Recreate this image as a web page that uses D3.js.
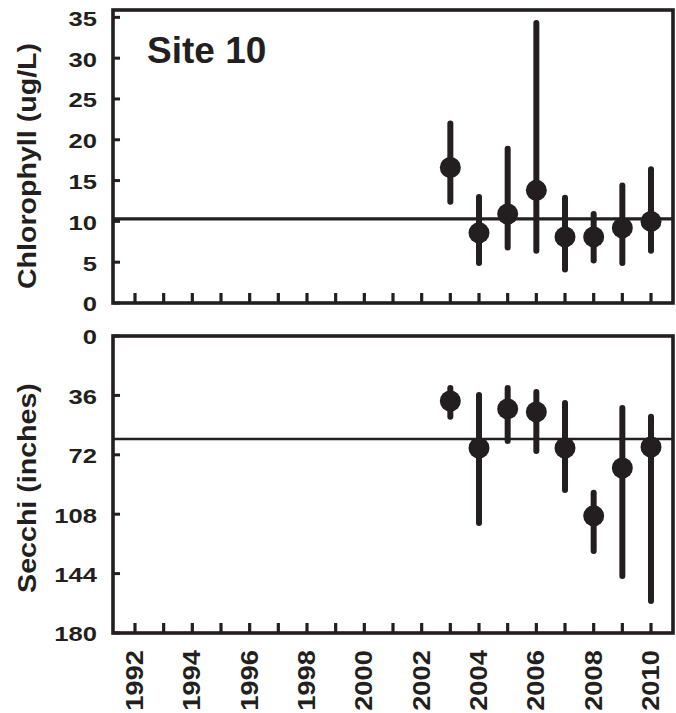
<!DOCTYPE html>
<html><head><meta charset="utf-8">
<script src="https://cdn.jsdelivr.net/npm/d3@7"></script>
<style>
html,body{margin:0;padding:0;background:#fff;}
svg{display:block;}
text{font-family:"Liberation Sans",Arial,sans-serif;font-weight:bold;fill:#231f20;}
</style></head>
<body>
<script>
// ---- data ----
const years = [2003, 2004, 2005, 2006, 2007, 2008, 2009, 2010];
const chlMean = [16.6, 8.6, 10.9, 13.8, 8.1, 8.1, 9.2, 10.0];
const chlMax  = [22.0, 13.0, 18.9, 34.3, 12.9, 10.9, 14.4, 16.4];
const chlMin  = [12.4, 4.9, 6.8, 6.4, 4.1, 5.2, 4.9, 6.4];
const chlRef = 10.3;
const secMean = [39.4, 67.9, 44.2, 46.0, 67.9, 109.0, 80.0, 67.3];
const secMin  = [31.5, 35.8, 31.5, 34.0, 40.6, 95.0, 43.6, 49.0];
const secMax  = [49.0, 113.3, 63.6, 69.7, 93.3, 130.3, 145.5, 160.6];
const secRef = 62.4;
const chlTicks = [0, 5, 10, 15, 20, 25, 30, 35];
const secTicks = [0, 36, 72, 108, 144, 180];
const yearTicks = d3.range(1992, 2011);
const yearLabels = [1992, 1994, 1996, 1998, 2000, 2002, 2004, 2006, 2008, 2010];
const siteTitle = "Site 10";
const chlTitle = "Chlorophyll (ug/L)";
const secTitle = "Secchi (inches)";

const W = 676, H = 713, ink = "#231f20";
const svg = d3.select("body").append("svg").attr("width", W).attr("height", H);

const x = d3.scaleLinear().domain([1991.233, 2010.767]).range([113, 673]);

function panel(top, bottom, y, ticks, mean, lo, hi, ref, refW, title, titleY) {
  const g = svg.append("g");
  g.append("line").attr("x1", x.range()[0]).attr("x2", x.range()[1])
    .attr("y1", y(ref)).attr("y2", y(ref)).attr("stroke", ink).attr("stroke-width", refW);
  g.selectAll(".yt").data(ticks).join("line")
    .attr("x1", 113).attr("x2", 120).attr("y1", d => y(d)).attr("y2", d => y(d))
    .attr("stroke", ink).attr("stroke-width", 3);
  g.selectAll(".yl").data(ticks).join("text")
    .attr("transform", d => `translate(97,${y(d) + 1.5}) scale(1.28,1)`)
    .attr("text-anchor", "end").attr("dominant-baseline", "central")
    .attr("font-size", 20).text(d => d);
  g.selectAll(".xt").data(yearTicks).join("line")
    .attr("x1", d => x(d)).attr("x2", d => x(d)).attr("y1", bottom).attr("y2", bottom - 10)
    .attr("stroke", ink).attr("stroke-width", 3.2);
  g.selectAll(".eb").data(years).join("line")
    .attr("x1", d => x(d)).attr("x2", d => x(d))
    .attr("y1", (d, i) => y(lo[i])).attr("y2", (d, i) => y(hi[i]))
    .attr("stroke", ink).attr("stroke-width", 6).attr("stroke-linecap", "round");
  g.selectAll(".pt").data(years).join("circle")
    .attr("cx", d => x(d)).attr("cy", (d, i) => y(mean[i])).attr("r", 10.5).attr("fill", ink);
  g.append("rect").attr("x", 113).attr("y", top).attr("width", 560).attr("height", bottom - top)
    .attr("fill", "none").attr("stroke", ink).attr("stroke-width", 3.6);
  g.append("text").attr("transform", `translate(36,${titleY}) rotate(-90) scale(1.1,1)`)
    .attr("text-anchor", "middle").attr("font-size", 26).text(title);
}

const yChl = d3.scaleLinear().domain([0, 35.9]).range([303, 10]);
const ySec = d3.scaleLinear().domain([0, 180]).range([336, 633]);

panel(10, 303, yChl, chlTicks, chlMean, chlMin, chlMax, chlRef, 3.2, chlTitle, 166);
panel(336, 633, ySec, secTicks, secMean, secMin, secMax, secRef, 2.6, secTitle, 488);

svg.append("text").attr("x", 147).attr("y", 63).attr("font-size", 37).text(siteTitle);

svg.selectAll(".xl").data(yearLabels).join("text")
  .attr("transform", d => `translate(${x(d) - 0.5},650) rotate(-90) scale(1.14,1)`)
  .attr("text-anchor", "end").attr("dominant-baseline", "central")
  .attr("font-size", 24).text(d => d);
</script>
</body></html>
